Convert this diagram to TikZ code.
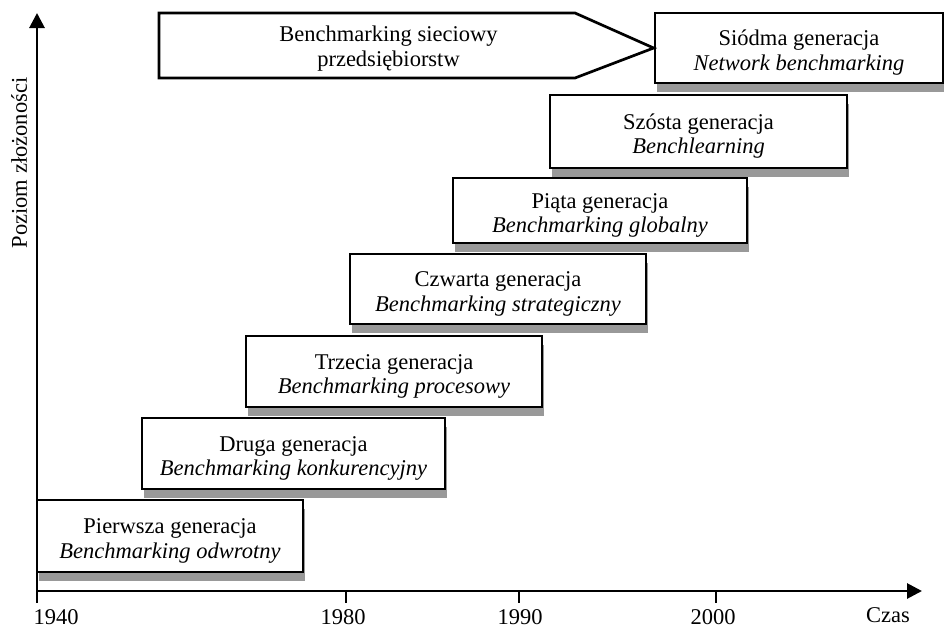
\documentclass[tikz,border=0pt]{standalone}
\usepackage{fontspec}
\setmainfont{Liberation Serif}
\usetikzlibrary{arrows.meta,shadows}
\newcommand{\genstrut}{\rule{0pt}{25pt}}
\begin{document}
\begin{tikzpicture}[x=1pt,y=-1pt,
  gen/.style={draw, line width=2.7pt, fill=white, align=center, inner sep=0pt,
    font=\fontsize{22.5}{24.5}\selectfont,
    drop shadow={shadow xshift=1.5pt, shadow yshift=-9pt, fill=black!40, opacity=1}},
  axisline/.style={line width=2.8pt, -{Triangle[length=15pt,width=15pt]}},
  tickline/.style={line width=1.5pt},
  lbl/.style={font=\fontsize{22.5}{24.5}\selectfont, inner sep=0pt}]
\useasboundingbox (0,0) rectangle (944,629);

% axes
\coordinate (O) at (37,591);
\coordinate (ytop) at (37,13);
\coordinate (xend) at (922,591);
\draw[axisline] (O) -- (ytop);
\draw[axisline] (O) -- (xend);

% ticks
\coordinate (t1a) at (37,591);  \coordinate (t1b) at (37,603);
\coordinate (t2a) at (346,591); \coordinate (t2b) at (346,603);
\coordinate (t3a) at (519,591); \coordinate (t3b) at (519,603);
\coordinate (t4a) at (716,591); \coordinate (t4b) at (716,603);
\draw[tickline] (t1a) -- (t1b);
\draw[tickline] (t2a) -- (t2b);
\draw[tickline] (t3a) -- (t3b);
\draw[tickline] (t4a) -- (t4b);

\node[lbl, anchor=base] (y1940) at (56,624) {1940};
\node[lbl, anchor=base] (y1980) at (343,624) {1980};
\node[lbl, anchor=base] (y1990) at (520,624) {1990};
\node[lbl, anchor=base] (y2000) at (713,624) {2000};
\node[lbl, anchor=base] (czas) at (888,622) {Czas};
\node[lbl, anchor=base, rotate=90] (poziom) at (27,163) {Poziom złożoności};

% generation boxes
\node[gen, minimum width=266pt, minimum height=72pt] (g1) at (170,536)
  {\genstrut Pierwsza generacja\\\textit{Benchmarking odwrotny}};
\node[gen, minimum width=303pt, minimum height=71pt] (g2) at (293.5,453.5)
  {\genstrut Druga generacja\\\textit{Benchmarking konkurencyjny}};
\node[gen, minimum width=296pt, minimum height=71pt] (g3) at (394,371.5)
  {\genstrut Trzecia generacja\\\textit{Benchmarking procesowy}};
\node[gen, minimum width=296pt, minimum height=70pt] (g4) at (498,289)
  {\genstrut Czwarta generacja\\\textit{Benchmarking strategiczny}};
\node[gen, minimum width=294pt, minimum height=65pt] (g5) at (600,210.5)
  {\genstrut Piąta generacja\\\textit{Benchmarking globalny}};
\node[gen, minimum width=297pt, minimum height=73pt] (g6) at (698.5,131.5)
  {\genstrut Szósta generacja\\\textit{Benchlearning}};
\node[gen, minimum width=288pt, minimum height=70pt] (g7) at (799,48)
  {\genstrut Siódma generacja\\\textit{Network benchmarking}};

% network benchmarking arrow (pentagon)
\coordinate (p1) at (159,13);
\coordinate (p2) at (575,13);
\coordinate (p3) at (g7.west);
\coordinate (p4) at (575,78);
\coordinate (p5) at (159,78);
\draw[line width=2.7pt, line join=miter, fill=white] (p1) -- (p2) -- (p3) -- (p4) -- (p5) -- cycle;
\node[lbl, align=center] (sieciowy) at (388.5,48.5)
  {Benchmarking sieciowy\\przedsiębiorstw};
\end{tikzpicture}
\end{document}
